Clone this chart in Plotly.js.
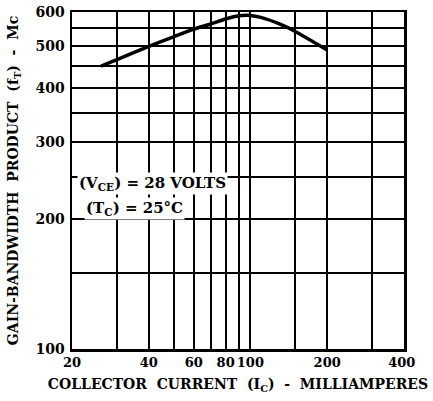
<!DOCTYPE html>
<html>
<head>
<meta charset="utf-8">
<script src="https://cdn.plot.ly/plotly-3.0.1.min.js"></script>
<style>html,body{margin:0;padding:0;background:#fff}#chart{width:433px;height:401px}</style>
</head>
<body>
<div id="chart"></div>
<script>
// Data
const collectorCurrent = [26, 30, 40, 50, 60, 70, 80, 90, 100, 110, 130, 150, 200];
const gainBandwidth    = [450, 466, 500, 526, 548, 563, 578, 588, 589, 583, 563, 541, 490];

const xGridVals = [20, 30, 40, 50, 60, 70, 80, 90, 100, 150, 200, 300, 400];
const xGridText = ['20', '', '40', '', '60', '', '80', '', '100', '', '200', '', '400\u00a0'];
const yGridVals = [100, 150, 200, 250, 300, 350, 400, 450, 500, 550, 600];
const yGridText = ['100', '', '200', '', '300', '', '400', '', '500', '', '600'];

const FONT = 'DejaVu Serif, Liberation Serif, serif';

const trace = {
  x: collectorCurrent, y: gainBandwidth,
  type: 'scatter', mode: 'lines',
  line: {color: '#000', width: 3.5, shape: 'spline', smoothing: 0.6},
  hoverinfo: 'skip'
};

const layout = {
  width: 433, height: 401,
  margin: {l: 72, r: 29, t: 12, b: 52},
  paper_bgcolor: '#fff', plot_bgcolor: '#fff',
  showlegend: false,
  font: {family: FONT, color: '#000', size: 14, weight: 'bold'},
  xaxis: {
    type: 'log', range: [Math.log10(20), Math.log10(400)],
    tickmode: 'array', tickvals: xGridVals, ticktext: xGridText, tickangle: 0,
    ticks: '', showgrid: true, gridcolor: '#000', gridwidth: 2,
    showline: true, linecolor: '#000', linewidth: 2.5, mirror: true,
    zeroline: false, tickfont: {family: FONT, size: 13, weight: 'bold'},
    title: {text: 'COLLECTOR  CURRENT  (I<sub>C</sub>)  -  MILLIAMPERES', font: {family: FONT, size: 14, weight: 'bold'}, standoff: 10}
  },
  yaxis: {
    type: 'log', range: [Math.log10(100), Math.log10(600)],
    tickmode: 'array', tickvals: yGridVals, ticktext: yGridText, tickangle: 0,
    ticks: '', showgrid: true, gridcolor: '#000', gridwidth: 2,
    showline: true, linecolor: '#000', linewidth: 2.5, mirror: true,
    zeroline: false, tickfont: {family: FONT, size: 14, weight: 'bold'},
    ticklabelstandoff: 2,
    title: {text: 'GAIN-BANDWIDTH  PRODUCT  (f<sub>T</sub>)  -  Mc', font: {family: FONT, size: 14, weight: 'bold'}, standoff: 14}
  },
  annotations: [
    {xref: 'paper', yref: 'paper', x: 0.014, y: 0.49, xanchor: 'left', yanchor: 'middle',
     text: '(V<sub>CE</sub>) = 28 VOLTS', showarrow: false, bgcolor: '#fff', borderpad: 1,
     font: {family: FONT, size: 15, weight: 'bold', color: '#000'}},
    {xref: 'paper', yref: 'paper', x: 0.036, y: 0.418, xanchor: 'left', yanchor: 'middle',
     text: '(T<sub>C</sub>) = 25°C', showarrow: false, bgcolor: '#fff', borderpad: 1,
     font: {family: FONT, size: 15, weight: 'bold', color: '#000'}}
  ]
};

Plotly.newPlot('chart', [trace], layout, {displayModeBar: false, staticPlot: true});
</script>
</body>
</html>
